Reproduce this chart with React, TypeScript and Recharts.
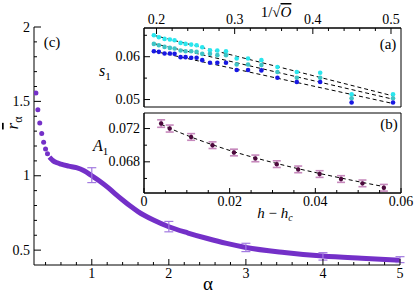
import { ComposedChart, Scatter, Line, XAxis, YAxis, ErrorBar, ReferenceArea } from 'recharts';

const W = 415;
const H = 298;
const SERIF = '"Liberation Serif", "DejaVu Serif", serif';

// ---- panel (c): r_alpha vs alpha ----
const alphaDots = [0.275, 0.3, 0.325, 0.35, 0.375, 0.4, 0.425];
const rDots = [1.556, 1.444, 1.355, 1.284, 1.226, 1.18, 1.148];
const alphaCurve = [0.45, 0.5, 0.55, 0.6, 0.7, 0.8, 0.9, 1.0, 1.1, 1.2, 1.3, 1.4, 1.5, 1.6, 1.8, 2.0, 2.25, 2.5, 2.75, 3.0, 3.5, 4.0, 4.5, 5.0];
const rCurve = [1.125, 1.1, 1.087, 1.078, 1.065, 1.054, 1.033, 1.0, 0.965, 0.925, 0.88, 0.837, 0.796, 0.759, 0.702, 0.657, 0.615, 0.578, 0.545, 0.518, 0.484, 0.46, 0.445, 0.432];
const alphaErr = [1, 2, 3, 4, 5];
const rErr = [1.004, 0.658, 0.518, 0.458, 0.436];
const rErrSize = [0.05, 0.035, 0.028, 0.025, 0.02];
const alphaTicks = [0.4, 0.6, 0.8, 1, 1.2, 1.4, 1.6, 1.8, 2, 2.2, 2.4, 2.6, 2.8, 3, 3.2, 3.4, 3.6, 3.8, 4, 4.2, 4.4, 4.6, 4.8, 5];
const alphaMajor = [1, 2, 3, 4, 5];
const rTicks = [0.5, 0.6, 0.7, 0.8, 0.9, 1, 1.1, 1.2, 1.3, 1.4, 1.5, 1.6, 1.7, 1.8, 1.9, 2];
const rMajor = [0.5, 1, 1.5, 2];

// ---- panel (a): s1 vs 1/sqrt(O) ----
const invSqrtO = [0.1966, 0.203, 0.2103, 0.2171, 0.2231, 0.2308, 0.2372, 0.2444, 0.2513, 0.2585, 0.2684, 0.2778, 0.2889, 0.3026, 0.3171, 0.3342, 0.3547, 0.3795, 0.4094, 0.4496, 0.5026];
const s1Cyan = [0.065, 0.06453, 0.06415, 0.064, 0.06384, 0.06322, 0.06299, 0.06283, 0.06268, 0.06221, 0.06152, 0.06144, 0.06129, 0.05959, 0.05959, 0.0592, 0.05758, 0.05642, 0.05626, 0.05124, 0.05124];
const s1Teal = [0.06299, 0.06268, 0.06229, 0.06206, 0.0619, 0.06144, 0.06129, 0.06129, 0.06113, 0.06067, 0.06067, 0.06036, 0.06036, 0.05819, 0.05819, 0.05804, 0.05642, 0.0551, 0.0551, 0.05031, 0.05031];
const s1Blue = [0.06129, 0.06113, 0.06075, 0.06075, 0.06067, 0.0599, 0.0599, 0.05974, 0.05974, 0.0592, 0.05858, 0.05858, 0.05858, 0.05688, 0.05688, 0.0568, 0.0551, 0.0541, 0.0541, 0.0493, 0.0493];
const fitX = [0.1966, 0.5026];
const fitCyan = [0.065, 0.05085];
const fitTeal = [0.06307, 0.05008];
const fitBlue = [0.06129, 0.04907];
const oTicks = [0.2, 0.22, 0.24, 0.26, 0.28, 0.3, 0.32, 0.34, 0.36, 0.38, 0.4, 0.42, 0.44, 0.46, 0.48, 0.5];
const oMajor = [0.2, 0.3, 0.4, 0.5];
const s1Ticks = [0.05, 0.055, 0.06, 0.065];
const s1Major = [0.05, 0.06];

// ---- panel (b): A1 vs h - hc ----
const hhc = [0.004, 0.006, 0.011, 0.016, 0.021, 0.026, 0.031, 0.036, 0.041, 0.046, 0.051, 0.056];
const a1 = [0.0726, 0.072, 0.07099, 0.07, 0.06912, 0.06841, 0.06772, 0.06709, 0.06653, 0.06593, 0.06541, 0.06488];
const a1Err = [0.00045, 0.00042, 0.0004, 0.0004, 0.0004, 0.0004, 0.0004, 0.0004, 0.0004, 0.0004, 0.0004, 0.0004];
const a1Fit = [0.07252, 0.07204, 0.07098, 0.07005, 0.06921, 0.06847, 0.0678, 0.06717, 0.0666, 0.06605, 0.06552, 0.06502];
const hTicks = [0, 0.005, 0.01, 0.015, 0.02, 0.025, 0.03, 0.035, 0.04, 0.045, 0.05, 0.055, 0.06];
const hMajor = [0, 0.02, 0.04, 0.06];
const a1Ticks = [0.066, 0.068, 0.07, 0.072];
const a1Major = [0.068, 0.072];

const PURPLE = '#7430c8';
const PURPLE_ERR = '#a27ae0';
const CYAN = '#2ae6ee';
const TEAL = '#3ec4c6';
const BLUE = '#1818e2';
const WINE = '#4c0a3c';
const PINK = '#c688bc';

const zip = (xs: number[], ys: number[]) => xs.map((x, i) => ({ x, y: ys[i] }));
const has = (arr: number[], v: number) => arr.some((a) => Math.abs(a - v) < 1e-9);

function makeTick(side: 'left' | 'bottom' | 'top', major: number[], labelled: number[], majorLen = 6, minorLen = 3) {
  return (p: any) => {
    const { x, y, payload } = p;
    const v = payload.value;
    const len = has(major, v) ? majorLen : minorLen;
    const label = has(labelled, v) ? String(v) : null;
    const txt = { fontFamily: SERIF, fontSize: 14, fill: '#000' };
    if (side === 'left') {
      return (
        <g>
          <line x1={x} y1={y} x2={x + len} y2={y} stroke="#000" />
          {label && <text x={x - 4} y={y} textAnchor="end" dominantBaseline="central" {...txt}>{label}</text>}
        </g>
      );
    }
    if (side === 'bottom') {
      return (
        <g>
          <line x1={x} y1={y} x2={x} y2={y - len} stroke="#000" />
          {label && <text x={x} y={y + 13} textAnchor="middle" {...txt}>{label}</text>}
        </g>
      );
    }
    return (
      <g>
        <line x1={x} y1={y} x2={x} y2={y + len} stroke="#000" />
        {label && <text x={x} y={y - 4} textAnchor="middle" {...txt}>{label}</text>}
      </g>
    );
  };
}

const dot = (r: number, fill: string) => (p: any) => <circle cx={p.cx} cy={p.cy} r={r} fill={fill} />;
const noDot = () => <g />;

const overlay: React.CSSProperties = { position: 'absolute', left: 0, top: 0 };

function PanelC() {
  const errData = alphaErr.map((x, i) => ({ x, y: rErr[i], e: rErrSize[i] }));
  return (
    <div style={overlay}>
      <ComposedChart width={W} height={H} margin={{ top: 27, right: 15, bottom: 32, left: 33 }}>
        <XAxis type="number" dataKey="x" domain={[0.25, 5]} allowDataOverflow ticks={alphaTicks} interval={0} height={1}
          tickLine={false} tickSize={0} tickMargin={0} axisLine={{ stroke: '#000' }} tick={makeTick('bottom', alphaMajor, alphaMajor)} />
        <YAxis type="number" dataKey="y" domain={[0.4, 2]} allowDataOverflow ticks={rTicks} interval={0} width={1}
          tickLine={false} tickSize={0} tickMargin={0} axisLine={{ stroke: '#000' }} tick={makeTick('left', rMajor, rMajor, 7, 3)} />
        <Line data={zip(alphaCurve, rCurve)} dataKey="y" type="monotone" stroke={PURPLE} strokeWidth={5} dot={false} isAnimationActive={false} />
        <Scatter data={zip(alphaDots, rDots)} shape={dot(2.5, PURPLE)} isAnimationActive={false} />
        <Scatter data={errData} shape={noDot} isAnimationActive={false}>
          <ErrorBar dataKey="e" direction="y" width={4.5} stroke={PURPLE_ERR} strokeWidth={1.2} />
        </Scatter>
      </ComposedChart>
    </div>
  );
}

function PanelA() {
  const xd: [number, number] = [0.184, 0.5128];
  const yd: [number, number] = [0.04826, 0.0667];
  return (
    <div style={overlay}>
      <ComposedChart width={W} height={H} margin={{ top: 27, right: 14, bottom: 191, left: 143 }}>
        <XAxis type="number" dataKey="x" orientation="top" domain={xd} allowDataOverflow ticks={oTicks} interval={0} height={1}
          tickLine={false} tickSize={0} tickMargin={0} axisLine={{ stroke: '#000' }} tick={makeTick('top', oMajor, oMajor)} />
        <YAxis type="number" dataKey="y" domain={yd} allowDataOverflow ticks={s1Ticks} interval={0} width={1}
          tickLine={false} tickSize={0} tickMargin={0} axisLine={{ stroke: '#000' }} tick={makeTick('left', s1Major, s1Major)} />
        <ReferenceArea x1={xd[0]} x2={xd[1]} y1={yd[0]} y2={yd[1]} fill="#fff" fillOpacity={0} stroke="#000" strokeWidth={1} ifOverflow="visible" />
        <Line data={zip(fitX, fitCyan)} dataKey="y" stroke="#000" strokeWidth={1} strokeDasharray="4 3" dot={false} isAnimationActive={false} />
        <Line data={zip(fitX, fitTeal)} dataKey="y" stroke="#000" strokeWidth={1} strokeDasharray="4 3" dot={false} isAnimationActive={false} />
        <Line data={zip(fitX, fitBlue)} dataKey="y" stroke="#000" strokeWidth={1} strokeDasharray="4 3" dot={false} isAnimationActive={false} />
        <Scatter data={zip(invSqrtO, s1Cyan)} shape={dot(2.3, CYAN)} isAnimationActive={false} />
        <Scatter data={zip(invSqrtO, s1Teal)} shape={dot(2.3, TEAL)} isAnimationActive={false} />
        <Scatter data={zip(invSqrtO, s1Blue)} shape={dot(2.3, BLUE)} isAnimationActive={false} />
      </ComposedChart>
    </div>
  );
}

function PanelB() {
  const xd: [number, number] = [0, 0.06];
  const yd: [number, number] = [0.06425, 0.07387];
  const pts = hhc.map((x, i) => ({ x, y: a1[i], e: a1Err[i] }));
  return (
    <div style={overlay}>
      <ComposedChart width={W} height={H} margin={{ top: 113, right: 14, bottom: 104, left: 143 }}>
        <XAxis type="number" dataKey="x" domain={xd} allowDataOverflow ticks={hTicks} interval={0} height={1}
          tickLine={false} tickSize={0} tickMargin={0} axisLine={{ stroke: '#000' }} tick={makeTick('bottom', hMajor, hMajor, 5, 3)} />
        <YAxis type="number" dataKey="y" domain={yd} allowDataOverflow ticks={a1Ticks} interval={0} width={1}
          tickLine={false} tickSize={0} tickMargin={0} axisLine={{ stroke: '#000' }} tick={makeTick('left', a1Major, a1Major)} />
        <ReferenceArea x1={xd[0]} x2={xd[1]} y1={yd[0]} y2={yd[1]} fill="#fff" fillOpacity={0} stroke="#000" strokeWidth={1} ifOverflow="visible" />
        <Line data={zip(hhc, a1Fit)} dataKey="y" type="monotone" stroke="#000" strokeWidth={1} strokeDasharray="4 3" dot={false} isAnimationActive={false} />
        <Scatter data={pts} shape={dot(2.2, WINE)} isAnimationActive={false}>
          <ErrorBar dataKey="e" direction="y" width={4} stroke={PINK} strokeWidth={1.6} />
        </Scatter>
      </ComposedChart>
    </div>
  );
}

function Annotations() {
  const t = { fontFamily: SERIF, fill: '#000' };
  return (
    <svg width={W} height={H} style={{ ...overlay, pointerEvents: 'none' }}>
      <text x={52} y={47} textAnchor="middle" fontSize={15} {...t}>(c)</text>
      <text x={388} y={49} textAnchor="middle" fontSize={15} {...t}>(a)</text>
      <text x={389} y={129} textAnchor="middle" fontSize={15} {...t}>(b)</text>
      <text x={208} y={290} textAnchor="middle" fontSize={19} {...t}>α</text>
      <text transform="translate(18,123) rotate(-90)" textAnchor="middle" fontSize={17} {...t}>
        <tspan fontStyle="italic" textDecoration="overline">r</tspan>
        <tspan fontSize={12} dy={4}>α</tspan>
      </text>
      <text x={276} y={17} textAnchor="middle" fontSize={15} {...t}>
        1/√<tspan fontStyle="italic" textDecoration="overline">O</tspan>
      </text>
      <text x={99} y={76} fontSize={16} {...t}>
        <tspan fontStyle="italic">s</tspan>
        <tspan fontSize={11} dy={4}>1</tspan>
      </text>
      <text x={93} y={151} fontSize={16} {...t}>
        <tspan fontStyle="italic">A</tspan>
        <tspan fontSize={11} dy={4}>1</tspan>
      </text>
      <text x={275} y={218} textAnchor="middle" fontSize={15} {...t}>
        <tspan fontStyle="italic">h</tspan> − <tspan fontStyle="italic">h</tspan>
        <tspan fontSize={10} fontStyle="italic" dy={3}>c</tspan>
      </text>
    </svg>
  );
}

export default function App() {
  return (
    <div style={{ position: 'absolute', left: 0, top: 0, width: W, height: H, background: '#fff' }}>
      <PanelC />
      <PanelA />
      <PanelB />
      <Annotations />
    </div>
  );
}
